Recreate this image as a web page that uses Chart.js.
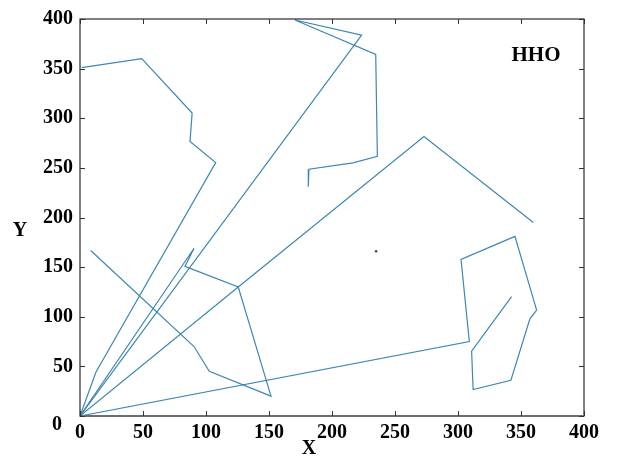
<!DOCTYPE html>
<html>
<head>
<meta charset="utf-8">
<script src="https://cdn.jsdelivr.net/npm/chart.js@4.4.1/dist/chart.umd.min.js"></script>
<style>
  html, body { margin: 0; padding: 0; background: #fff; }
  #wrap { width: 617px; height: 462px; position: relative; }
</style>
</head>
<body>
<div id="wrap"><canvas id="pathChart" width="617" height="462"></canvas></div>
<script>
// routes, every one leaves the depot at (0,0)
const route1X = [0, 12.7, 107.7, 87.3, 89, 49, 1.3];
const route1Y = [0, 44.3, 255.3, 276.7, 305.3, 360, 351];
const route2X = [0, 223.5, 170.6, 234.7, 236, 216.7, 181.7, 181.2];
const route2Y = [0, 383.7, 399, 364.3, 261.7, 255, 248.7, 231];
const route3X = [0, 125.6, 273, 359.8];
const route3Y = [0, 130, 281.7, 195];
const route4X = [0, 309, 302.4, 345.2, 362.4, 357, 342, 312, 310.8, 342.5];
const route4Y = [0, 75, 157.7, 181, 106.7, 97.7, 36, 26.7, 65.3, 120.3];
const route5X = [0, 90.5, 83.3, 125.6, 151.6, 102.6, 90.5, 8.5];
const route5Y = [0, 169, 150.7, 130, 20, 45, 70, 166.7];
const loneX = [235];
const loneY = [166];

const xTicks = [0, 50, 100, 150, 200, 250, 300, 350, 400];
const yTicks = [0, 50, 100, 150, 200, 250, 300, 350, 400];

const lineColor = '#3c87b3';
const tickFont = { family: "'Liberation Serif', 'Times New Roman', serif", size: 20, weight: 'bold' };

function toPoints(xs, ys) {
  return xs.map((x, i) => ({ x: x, y: ys[i] }));
}

const routes = [
  [route1X, route1Y], [route2X, route2Y], [route3X, route3Y],
  [route4X, route4Y], [route5X, route5Y]
];

const datasets = routes.map(r => ({
  data: toPoints(r[0], r[1]),
  showLine: true,
  borderColor: lineColor,
  borderWidth: 1.2,
  pointRadius: 0,
  tension: 0
}));
datasets.push({
  data: toPoints(loneX, loneY),
  showLine: false,
  pointRadius: 1.3,
  pointBackgroundColor: '#2b4f66',
  pointBorderWidth: 0
});

// frame, inward ticks, axis names and the corner zero
const framePlugin = {
  id: 'framePlugin',
  afterDraw(chart) {
    const ctx = chart.ctx;
    const a = chart.chartArea;
    const xs = chart.scales.x, ys = chart.scales.y;
    ctx.save();
    ctx.strokeStyle = '#2a2a2a';
    ctx.lineWidth = 1.2;
    ctx.strokeRect(a.left, a.top, a.right - a.left, a.bottom - a.top);
    ctx.strokeStyle = '#6e6e6e';
    ctx.lineWidth = 2;
    ctx.beginPath();
    ctx.moveTo(a.left, a.bottom);
    ctx.lineTo(a.right, a.bottom);
    ctx.stroke();

    ctx.strokeStyle = '#333';
    ctx.lineWidth = 1;
    const len = 5;
    xTicks.forEach(v => {
      const px = Math.round(xs.getPixelForValue(v)) + 0.5;
      ctx.beginPath();
      ctx.moveTo(px, a.bottom); ctx.lineTo(px, a.bottom - len);
      ctx.moveTo(px, a.top); ctx.lineTo(px, a.top + len);
      ctx.stroke();
    });
    yTicks.forEach(v => {
      const py = Math.round(ys.getPixelForValue(v)) + 0.5;
      ctx.beginPath();
      ctx.moveTo(a.left, py); ctx.lineTo(a.left + len, py);
      ctx.moveTo(a.right, py); ctx.lineTo(a.right - len, py);
      ctx.stroke();
    });

    ctx.fillStyle = '#000';
    ctx.font = "bold 20px 'Liberation Serif', serif";
    ctx.textAlign = 'center';
    ctx.textBaseline = 'middle';
    ctx.fillText('0', 57, 425);
    ctx.fillText('X', 309, 449);
    ctx.fillText('Y', 20, 231);
    ctx.font = "bold 21px 'Liberation Serif', serif";
    ctx.fillText('HHO', 536, 56);
    ctx.restore();
  }
};

new Chart(document.getElementById('pathChart'), {
  type: 'scatter',
  data: { datasets: datasets },
  options: {
    responsive: false,
    animation: false,
    layout: { padding: { top: 16, right: 33, left: 0, bottom: 0 } },
    plugins: { legend: { display: false }, tooltip: { enabled: false } },
    scales: {
      x: {
        type: 'linear',
        min: 0, max: 400,
        afterFit: s => { s.height = 46; },
        afterBuildTicks: s => { s.ticks = xTicks.map(v => ({ value: v })); },
        grid: { display: false, drawTicks: false },
        border: { display: false },
        ticks: { color: '#000', font: tickFont, padding: 5, maxRotation: 0 }
      },
      y: {
        type: 'linear',
        min: 0, max: 400,
        afterFit: s => { s.width = 80; },
        afterBuildTicks: s => { s.ticks = yTicks.map(v => ({ value: v })); },
        grid: { display: false, drawTicks: false },
        border: { display: false },
        ticks: {
          color: '#000', font: tickFont, padding: 7,
          callback: v => (v === 0 ? '' : v)
        }
      }
    }
  },
  plugins: [framePlugin]
});
</script>
</body>
</html>
